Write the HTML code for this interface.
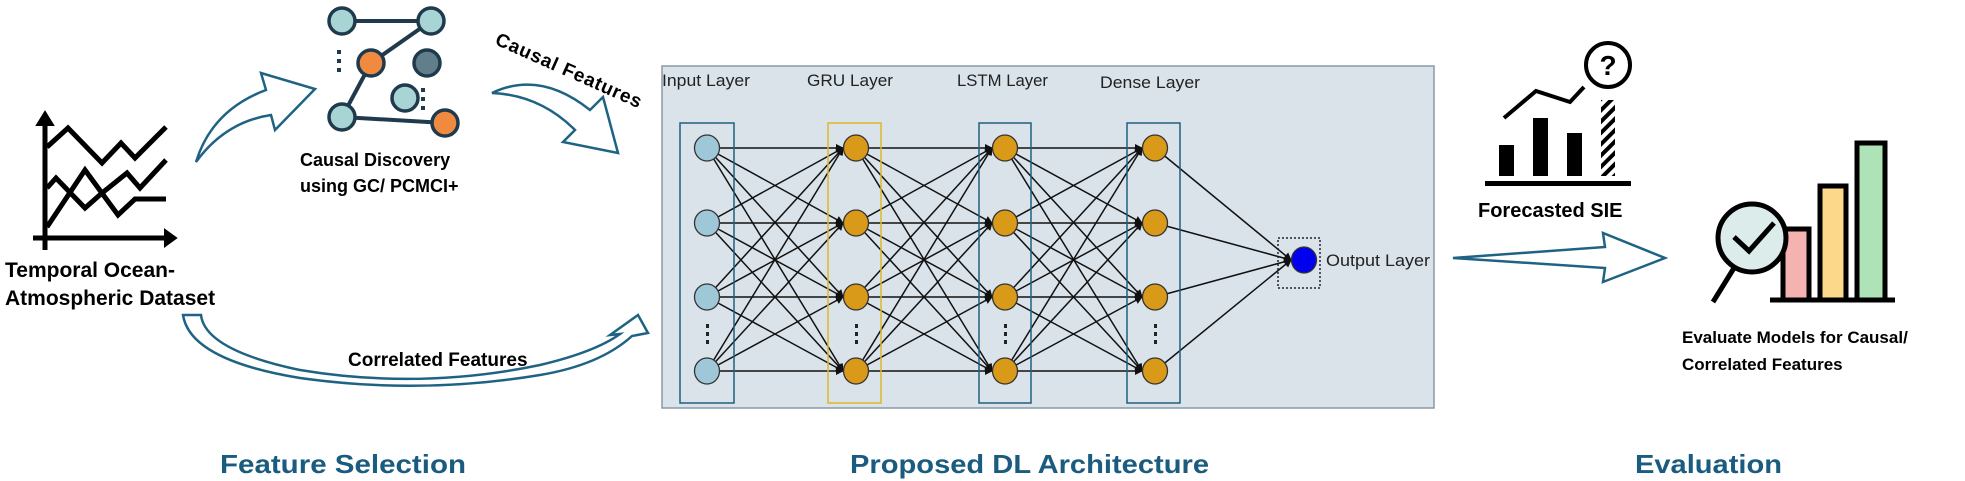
<!DOCTYPE html>
<html><head><meta charset="utf-8"><style>
html,body{margin:0;padding:0;background:#fff;}
svg{display:block;}
text{font-family:"Liberation Sans",sans-serif;}
</style></head><body>
<svg width="1965" height="481" viewBox="0 0 1965 481" xmlns="http://www.w3.org/2000/svg">
<defs>
<marker id="ah" markerWidth="8" markerHeight="8" refX="7" refY="4" orient="auto" markerUnits="userSpaceOnUse">
<path d="M0,0 L8,4 L0,8 Z" fill="#111"/></marker>
<pattern id="hatch" width="8" height="8" patternUnits="userSpaceOnUse" patternTransform="rotate(45)">
<rect width="8" height="8" fill="#fff"/><rect width="4" height="8" fill="#000"/></pattern>
</defs>

<!-- Chart icon -->
<g stroke="#000" stroke-width="5" fill="none" stroke-linejoin="miter">
<line x1="45" y1="120" x2="45" y2="250"/>
<path d="M37,125 L45,112 L53,125 Z" fill="#000" stroke-width="2"/>
<line x1="33" y1="238" x2="168" y2="238"/>
<path d="M165,230 L176,238 L165,246 Z" fill="#000" stroke-width="2"/>
<polyline points="47,147 68,128 102,163 121,143 135,158 166,127"/>
<polyline points="47,188 56,178 85,208 102,193 127,173 140,188 166,160"/>
<polyline points="47,227 85,170 118,215 135,199 166,199"/>
</g>
<text x="5" y="277" font-size="21" font-weight="bold">Temporal Ocean-</text>
<text x="5" y="305" font-size="21" font-weight="bold">Atmospheric Dataset</text>

<!-- Causal graph -->
<g stroke="#1f3a4d" stroke-width="4" fill="none">
<line x1="342" y1="21" x2="431" y2="21"/>
<line x1="431" y1="21" x2="371" y2="63"/>
<line x1="371" y1="63" x2="342" y2="117"/>
<line x1="342" y1="117" x2="445" y2="123"/>
</g>
<g stroke="#1f3a4d" stroke-width="3.5">
<circle cx="342" cy="21" r="13" fill="#a9d4d6"/>
<circle cx="431" cy="21" r="13" fill="#a9d4d6"/>
<circle cx="371" cy="63" r="13" fill="#f08a40"/>
<circle cx="427" cy="63" r="13" fill="#607f8a"/>
<circle cx="405" cy="98" r="13" fill="#a9d4d6"/>
<circle cx="342" cy="117" r="13" fill="#a9d4d6"/>
<circle cx="445" cy="123" r="13" fill="#f08a40"/>
</g>
<g fill="#1f3a4d">
<rect x="337" y="50" width="4" height="4"/><rect x="337" y="59" width="4" height="4"/><rect x="337" y="68" width="4" height="4"/>
<rect x="421" y="88" width="4" height="4"/><rect x="421" y="97" width="4" height="4"/><rect x="421" y="106" width="4" height="4"/>
</g>
<text x="300" y="166" font-size="18" font-weight="bold">Causal Discovery</text>
<text x="300" y="192" font-size="18" font-weight="bold">using GC/ PCMCI+</text>

<text x="0" y="0" font-size="19" font-weight="bold" textLength="158" lengthAdjust="spacing" transform="translate(494,44) rotate(24)">Causal Features</text>

<!-- block arrows -->
<g fill="#fff" stroke="#1f6384" stroke-width="2.5" stroke-linejoin="miter">
<path d="M196,162 Q212,110 266,90 L261,73 L315,89 L275,130 L271,115 Q225,122 196,162 Z"/>
<path d="M492,93 Q540,70 590,110 L603,97 L618,153 L563,142 L575,130 Q540,95 492,93 Z"/>
<path d="M183,315 L201,315 Q205,350 300,370 Q420,390 540,365 Q595,352 620,334 L610,335 L638,315 L648,333 L632,336 Q600,365 540,375 Q420,395 300,378 Q190,360 183,315 Z"/>
<path d="M1453,258 L1605,247 L1603,233 L1665,258 L1603,282 L1605,268 Z"/>
</g>
<text x="348" y="366" font-size="19" font-weight="bold">Correlated Features</text>

<!-- Network panel -->
<rect x="662" y="66" width="772" height="342" fill="#dae3ea" stroke="#8a9aa6" stroke-width="1.5"/>
<text x="662" y="86" font-size="17" fill="#222" textLength="88" lengthAdjust="spacingAndGlyphs">Input Layer</text>
<text x="807" y="86" font-size="17" fill="#222" textLength="86" lengthAdjust="spacingAndGlyphs">GRU Layer</text>
<text x="957" y="86" font-size="17" fill="#222" textLength="91" lengthAdjust="spacingAndGlyphs">LSTM Layer</text>
<text x="1100" y="88" font-size="17" fill="#222" textLength="100" lengthAdjust="spacingAndGlyphs">Dense Layer</text>

<g stroke="#111" stroke-width="1.5" fill="none" marker-end="url(#ah)">
<line x1="707" y1="148" x2="843" y2="148"/><line x1="707" y1="148" x2="843" y2="223"/><line x1="707" y1="148" x2="843" y2="297"/><line x1="707" y1="148" x2="843" y2="371"/>
<line x1="707" y1="223" x2="843" y2="148"/><line x1="707" y1="223" x2="843" y2="223"/><line x1="707" y1="223" x2="843" y2="297"/><line x1="707" y1="223" x2="843" y2="371"/>
<line x1="707" y1="297" x2="843" y2="148"/><line x1="707" y1="297" x2="843" y2="223"/><line x1="707" y1="297" x2="843" y2="297"/><line x1="707" y1="297" x2="843" y2="371"/>
<line x1="707" y1="371" x2="843" y2="148"/><line x1="707" y1="371" x2="843" y2="223"/><line x1="707" y1="371" x2="843" y2="297"/><line x1="707" y1="371" x2="843" y2="371"/>
<line x1="856" y1="148" x2="992" y2="148"/><line x1="856" y1="148" x2="992" y2="223"/><line x1="856" y1="148" x2="992" y2="297"/><line x1="856" y1="148" x2="992" y2="371"/>
<line x1="856" y1="223" x2="992" y2="148"/><line x1="856" y1="223" x2="992" y2="223"/><line x1="856" y1="223" x2="992" y2="297"/><line x1="856" y1="223" x2="992" y2="371"/>
<line x1="856" y1="297" x2="992" y2="148"/><line x1="856" y1="297" x2="992" y2="223"/><line x1="856" y1="297" x2="992" y2="297"/><line x1="856" y1="297" x2="992" y2="371"/>
<line x1="856" y1="371" x2="992" y2="148"/><line x1="856" y1="371" x2="992" y2="223"/><line x1="856" y1="371" x2="992" y2="297"/><line x1="856" y1="371" x2="992" y2="371"/>
<line x1="1005" y1="148" x2="1142" y2="148"/><line x1="1005" y1="148" x2="1142" y2="223"/><line x1="1005" y1="148" x2="1142" y2="297"/><line x1="1005" y1="148" x2="1142" y2="371"/>
<line x1="1005" y1="223" x2="1142" y2="148"/><line x1="1005" y1="223" x2="1142" y2="223"/><line x1="1005" y1="223" x2="1142" y2="297"/><line x1="1005" y1="223" x2="1142" y2="371"/>
<line x1="1005" y1="297" x2="1142" y2="148"/><line x1="1005" y1="297" x2="1142" y2="223"/><line x1="1005" y1="297" x2="1142" y2="297"/><line x1="1005" y1="297" x2="1142" y2="371"/>
<line x1="1005" y1="371" x2="1142" y2="148"/><line x1="1005" y1="371" x2="1142" y2="223"/><line x1="1005" y1="371" x2="1142" y2="297"/><line x1="1005" y1="371" x2="1142" y2="371"/>
<line x1="1155" y1="148" x2="1291" y2="260"/><line x1="1155" y1="223" x2="1291" y2="260"/><line x1="1155" y1="297" x2="1291" y2="260"/><line x1="1155" y1="371" x2="1291" y2="260"/>
</g>

<g fill="none" stroke-width="1.5">
<rect x="680" y="123" width="54" height="280" stroke="#1f5f80"/>
<rect x="828" y="123" width="53" height="280" stroke="#e0b828"/>
<rect x="979" y="123" width="52" height="280" stroke="#1f5f80"/>
<rect x="1127" y="123" width="53" height="280" stroke="#1f5f80"/>
<rect x="1278" y="238" width="42" height="50" stroke="#223" stroke-dasharray="2,2"/>
</g>

<g stroke="#333" stroke-width="1.3">
<ellipse cx="707" cy="148" rx="12.5" ry="13" fill="#9ec8d8"/><ellipse cx="707" cy="223" rx="12.5" ry="13" fill="#9ec8d8"/><ellipse cx="707" cy="297" rx="12.5" ry="13" fill="#9ec8d8"/><ellipse cx="707" cy="371" rx="12.5" ry="13" fill="#9ec8d8"/>
<ellipse cx="856" cy="148" rx="12.5" ry="13" fill="#d99a1a"/><ellipse cx="856" cy="223" rx="12.5" ry="13" fill="#d99a1a"/><ellipse cx="856" cy="297" rx="12.5" ry="13" fill="#d99a1a"/><ellipse cx="856" cy="371" rx="12.5" ry="13" fill="#d99a1a"/>
<ellipse cx="1005" cy="148" rx="12.5" ry="13" fill="#d99a1a"/><ellipse cx="1005" cy="223" rx="12.5" ry="13" fill="#d99a1a"/><ellipse cx="1005" cy="297" rx="12.5" ry="13" fill="#d99a1a"/><ellipse cx="1005" cy="371" rx="12.5" ry="13" fill="#d99a1a"/>
<ellipse cx="1155" cy="148" rx="12.5" ry="13" fill="#d99a1a"/><ellipse cx="1155" cy="223" rx="12.5" ry="13" fill="#d99a1a"/><ellipse cx="1155" cy="297" rx="12.5" ry="13" fill="#d99a1a"/><ellipse cx="1155" cy="371" rx="12.5" ry="13" fill="#d99a1a"/>
<ellipse cx="1304" cy="260" rx="12.5" ry="13" fill="#0000ee"/>
</g>
<g fill="#222">
<rect x="706" y="324" width="3" height="4"/><rect x="706" y="332" width="3" height="4"/><rect x="706" y="340" width="3" height="4"/>
<rect x="855" y="324" width="3" height="4"/><rect x="855" y="332" width="3" height="4"/><rect x="855" y="340" width="3" height="4"/>
<rect x="1004" y="324" width="3" height="4"/><rect x="1004" y="332" width="3" height="4"/><rect x="1004" y="340" width="3" height="4"/>
<rect x="1154" y="324" width="3" height="4"/><rect x="1154" y="332" width="3" height="4"/><rect x="1154" y="340" width="3" height="4"/>
</g>
<text x="1326" y="266" font-size="17" fill="#222" textLength="104" lengthAdjust="spacingAndGlyphs">Output Layer</text>

<!-- Forecast icon -->
<g fill="#000">
<rect x="1485" y="181" width="146" height="5"/>
<rect x="1499" y="145" width="15" height="31"/>
<rect x="1533" y="118" width="15" height="58"/>
<rect x="1567" y="133" width="15" height="43"/>
</g>
<rect x="1601" y="100" width="14" height="76" fill="url(#hatch)"/>
<polyline points="1504,118 1536,91 1570,102 1584,87" fill="none" stroke="#000" stroke-width="4"/>
<circle cx="1608" cy="65" r="22" fill="#fff" stroke="#000" stroke-width="4"/>
<text x="1608" y="75" font-size="28" font-weight="bold" text-anchor="middle">?</text>
<text x="1478" y="217" font-size="20" font-weight="bold">Forecasted SIE</text>

<!-- Evaluate icon -->
<g stroke="#000" stroke-width="5">
<rect x="1783" y="229" width="26" height="71" fill="#f4b3b0"/>
<rect x="1820" y="186" width="26" height="114" fill="#fcd88a"/>
<rect x="1857" y="143" width="28" height="157" fill="#aee3b8"/>
<line x1="1770" y1="300" x2="1895" y2="300"/>
<line x1="1734" y1="268" x2="1713" y2="302"/>
<circle cx="1752" cy="238" r="34" fill="#dcecea"/>
<polyline points="1734,237 1749,251 1774,223" fill="none"/>
</g>
<text x="1682" y="343" font-size="17" font-weight="bold">Evaluate Models for Causal/</text>
<text x="1682" y="370" font-size="17" font-weight="bold">Correlated Features</text>

<!-- Section titles -->
<g fill="#1a5c80" font-size="26" font-weight="bold">
<text x="220" y="473" textLength="246" lengthAdjust="spacingAndGlyphs">Feature Selection</text>
<text x="850" y="473" textLength="359" lengthAdjust="spacingAndGlyphs">Proposed DL Architecture</text>
<text x="1635" y="473" textLength="147" lengthAdjust="spacingAndGlyphs">Evaluation</text>
</g>
</svg>
</body></html>
